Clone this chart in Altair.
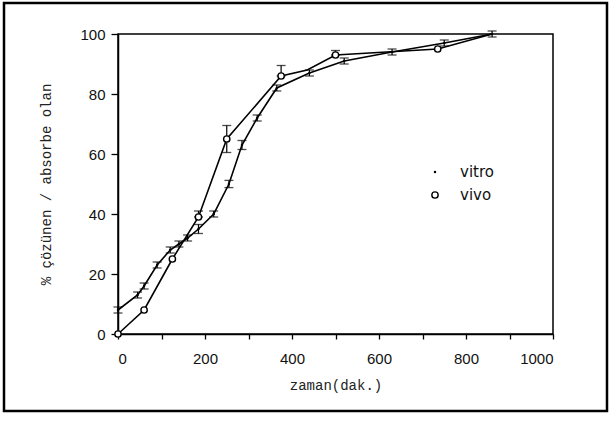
import altair as alt
import pandas as pd

# ---- data ----
vitro_t = [0, 45, 60, 90, 120, 140, 160, 185, 220, 255, 285, 320, 365, 440, 520, 630, 750, 860]
vitro_v = [8, 13, 16, 23, 28, 30, 32, 35, 40, 50, 63, 72, 82, 87, 91, 94, 97, 100]
vitro_err = [1, 1, 1, 1, 1, 1, 1, 1.5, 1, 1.2, 1.5, 1, 1, 1, 1, 1, 1, 1]

vivo_t = [0, 60, 125, 185, 250, 375, 435, 500, 735, 860]
vivo_v = [0, 8, 25, 39, 65, 86, 88, 93, 95, 100]
vivo_err_up = [0, 0, 0, 2, 4.5, 3.5, 0, 1.5, 0, 0]
vivo_err_dn = [0, 0, 0, 0, 4.5, 0, 0, 0, 0, 0]
vivo_circle = [True, True, True, True, True, True, False, True, True, False]

series_names = ["vitro", "vivo"]
x_ticks = list(range(0, 1001, 100))
y_ticks = [0, 20, 40, 60, 80, 100]

rows = []
for t, v, e in zip(vitro_t, vitro_v, vitro_err):
    rows.append({"t": t, "v": v, "lo": v - e, "hi": v + e, "series": "vitro", "mk": True})
for t, v, up, dn, mk in zip(vivo_t, vivo_v, vivo_err_up, vivo_err_dn, vivo_circle):
    rows.append({"t": t, "v": v, "lo": v - dn, "hi": v + up, "series": "vivo", "mk": mk})
df = pd.DataFrame(rows)
err_df = df[df["hi"] > df["lo"]]

W, H = 435, 300
PL, PT = 118, 34

xs = alt.Scale(domain=[0, 1000], nice=False)
ys = alt.Scale(domain=[0, 100], nice=False)

x_axis = alt.Axis(values=x_ticks, format="d",
                  labelExpr="datum.value % 200 == 0 ? datum.label : ''",
                  title="zaman(dak.)", grid=False, tickSize=5, labelPadding=12,
                  titlePadding=12)
y_axis = alt.Axis(values=y_ticks, title="% çözünen / absorbe olan", grid=False,
                  tickSize=7, labelPadding=6, titlePadding=26)

base = alt.Chart(df)

lines = base.mark_line(color="black", strokeWidth=1.6).encode(
    x=alt.X("t:Q", scale=xs, axis=x_axis),
    y=alt.Y("v:Q", scale=ys, axis=y_axis),
    detail="series:N",
    order="t:Q",
)

err_rule = alt.Chart(err_df).mark_rule(color="black", strokeWidth=1.2).encode(
    x="t:Q", y="lo:Q", y2="hi:Q")
cap_hi = alt.Chart(err_df).mark_tick(color="black", orient="horizontal", size=9,
                                      thickness=1.3).encode(x="t:Q", y="hi:Q")
cap_lo = alt.Chart(err_df).mark_tick(color="black", orient="horizontal", size=9,
                                      thickness=1.3).encode(x="t:Q", y="lo:Q")

vitro_pts = alt.Chart(df[df["series"] == "vitro"]).mark_circle(
    color="black", size=6, opacity=1).encode(x="t:Q", y="v:Q")
vivo_pts = alt.Chart(df[(df["series"] == "vivo") & (df["mk"])]).mark_point(
    shape="circle", stroke="black", strokeWidth=1.4,
    size=40, opacity=1).encode(x="t:Q", y="v:Q", fill=alt.value("white"))

# legend (drawn manually)
leg_df = pd.DataFrame({"series": series_names})
leg_x, leg_text_x = 435 - PL, 460 - PL
leg_y = [172 - PT, 195 - PT]
leg_vitro_sym = alt.Chart(leg_df.iloc[[0]]).mark_circle(color="black", size=6, opacity=1).encode(
    x=alt.value(leg_x), y=alt.value(leg_y[0]))
leg_vivo_sym = alt.Chart(leg_df.iloc[[1]]).mark_point(
    shape="circle", stroke="black", strokeWidth=1.4, size=40, opacity=1).encode(
    x=alt.value(leg_x), y=alt.value(leg_y[1]), fill=alt.value("white"))
leg_vitro_txt = alt.Chart(leg_df.iloc[[0]]).mark_text(
    align="left", baseline="middle", font="DejaVu Sans", fontSize=15, color="#111").encode(
    x=alt.value(leg_text_x), y=alt.value(leg_y[0]), text="series:N")
leg_vivo_txt = alt.Chart(leg_df.iloc[[1]]).mark_text(
    align="left", baseline="middle", font="DejaVu Sans", fontSize=15, color="#111").encode(
    x=alt.value(leg_text_x), y=alt.value(leg_y[1]), text="series:N")

frame = alt.Chart(pd.DataFrame({"k": [0]})).mark_rect(
    filled=False, stroke="black", strokeWidth=2.5
).encode(
    x=alt.value(4 - PL), x2=alt.value(607 - PL),
    y=alt.value(3 - PT), y2=alt.value(411 - PT),
)

chart = alt.layer(lines, err_rule, cap_hi, cap_lo, vitro_pts, vivo_pts,
                  leg_vitro_sym, leg_vivo_sym, leg_vitro_txt, leg_vivo_txt,
                  frame).properties(
    width=W, height=H,
    autosize=alt.AutoSizeParams(type="none"),
    padding={"left": PL, "top": PT, "right": 609 - PL - W, "bottom": 422 - PT - H},
    background="white",
).configure_view(
    stroke="black", strokeWidth=1.5
).configure_axis(
    domainColor="black", domainWidth=1.5, tickColor="black", tickWidth=1.3,
    labelFont="Liberation Sans", labelFontSize=15, labelColor="#111",
    titleFont="Liberation Mono", titleFontSize=14, titleFontWeight="normal",
    titleColor="#222",
)

chart.save("out.html", embed_options={"renderer": "svg", "actions": False})
